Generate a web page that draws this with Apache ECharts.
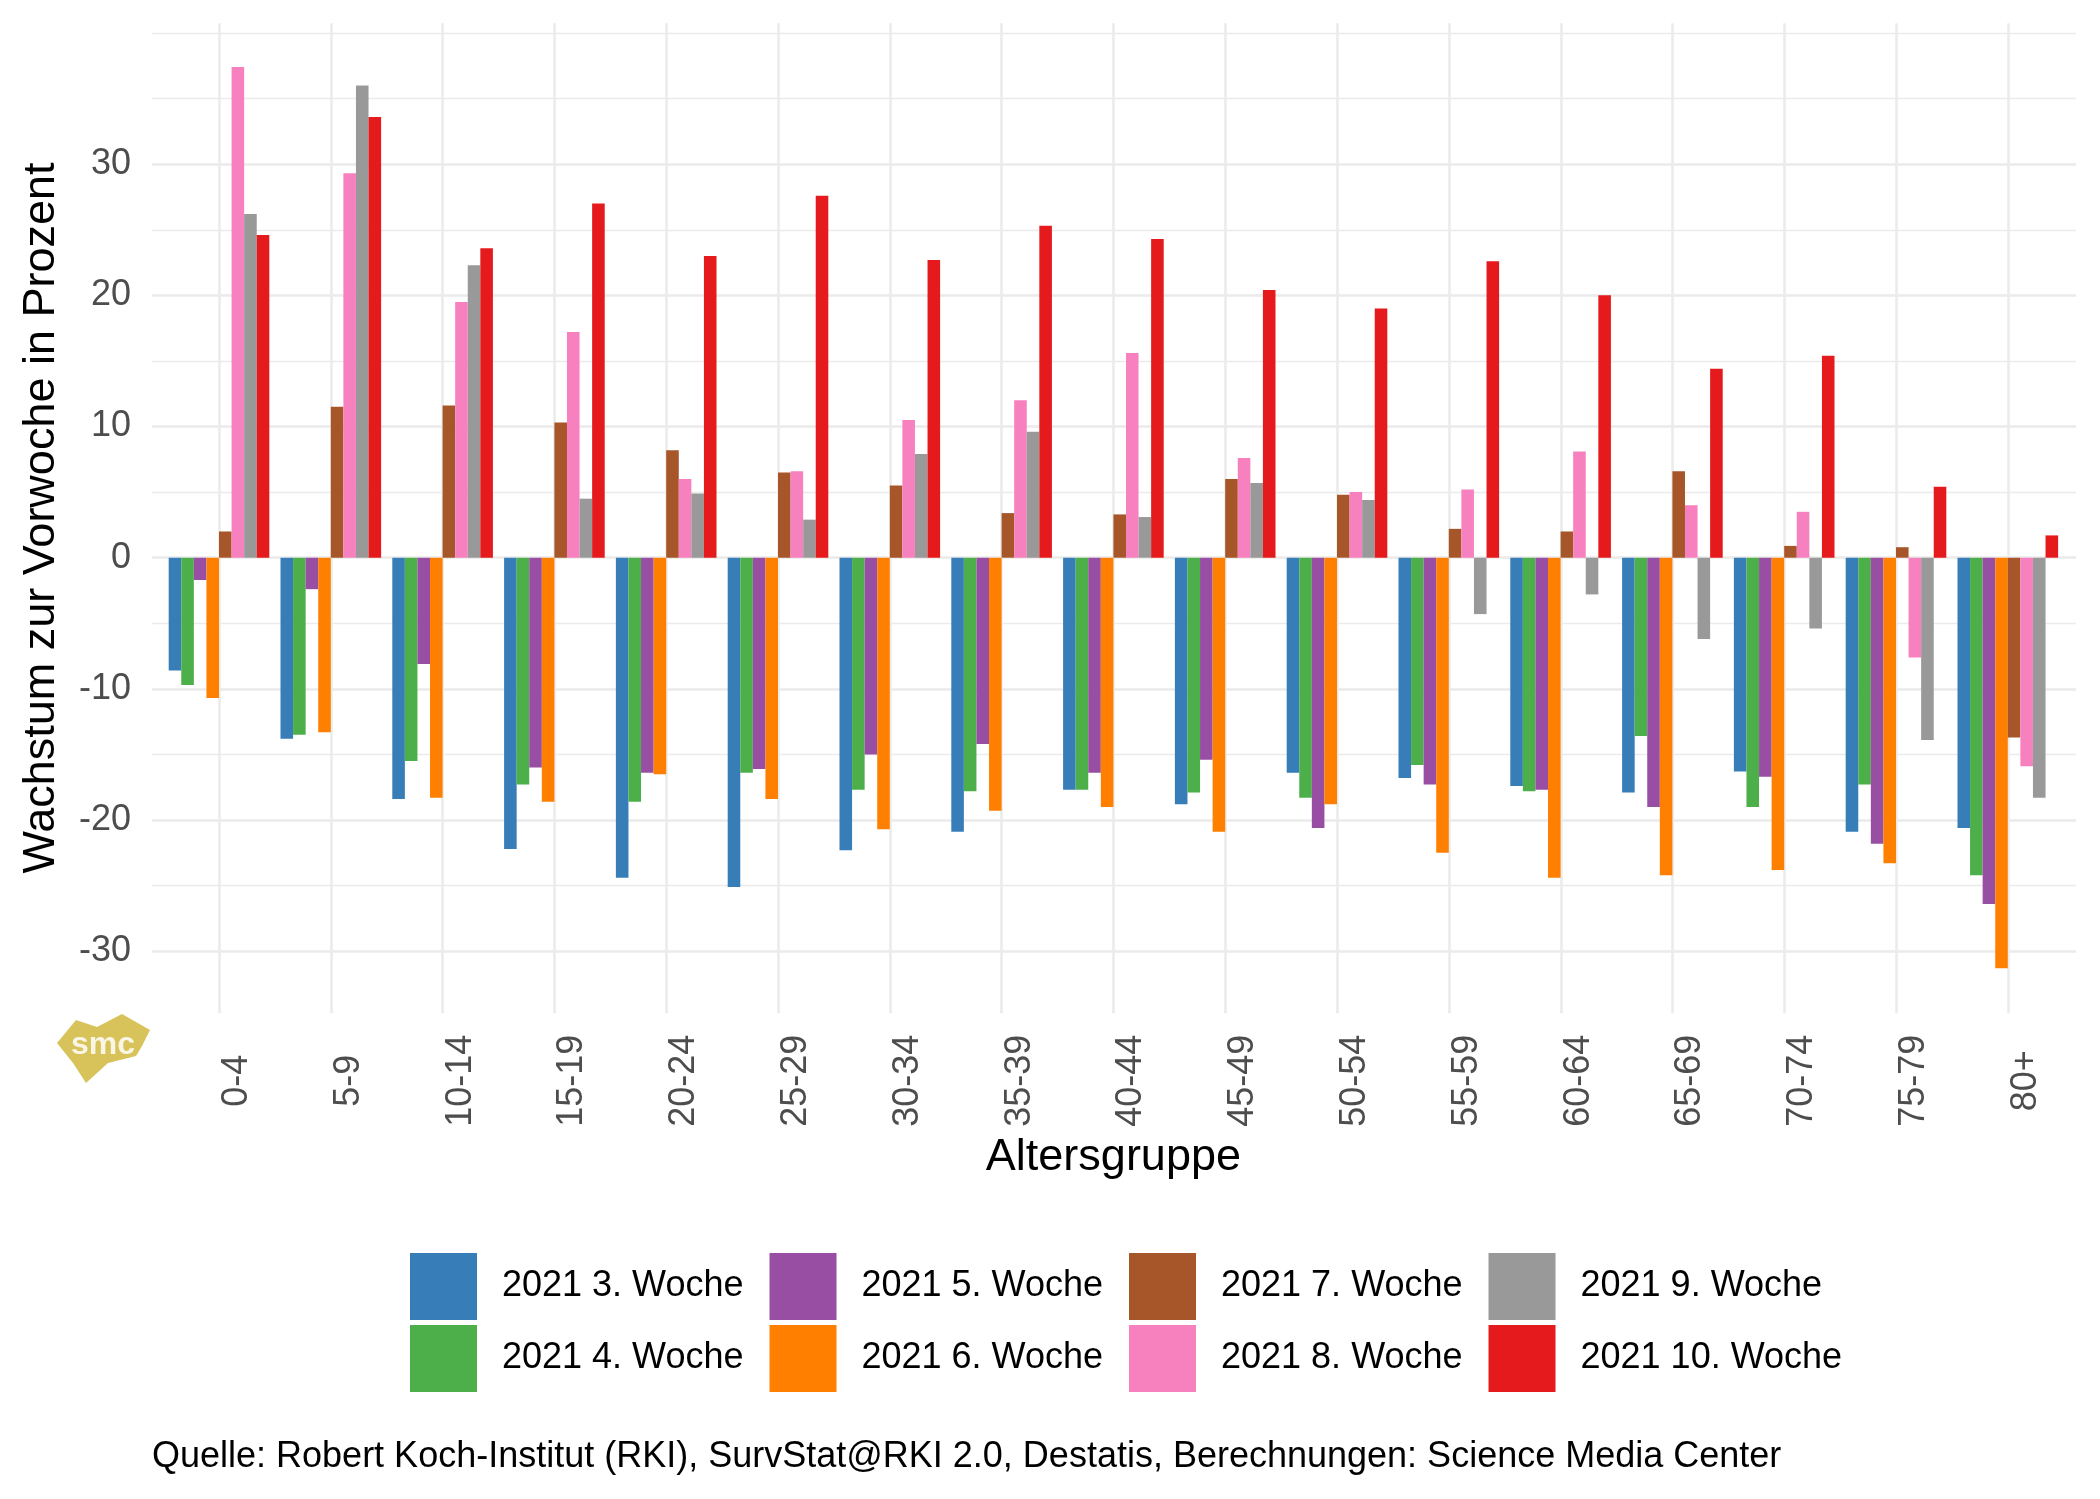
<!DOCTYPE html>
<html>
<head>
<meta charset="utf-8">
<script src="https://cdn.jsdelivr.net/npm/echarts@6/dist/echarts.min.js"></script>
<style>
html,body{margin:0;padding:0;background:#ffffff;}
#chart{width:2100px;height:1499px;}
</style>
</head>
<body>
<div id="chart"></div>
<script>
// ---------------- data ----------------
const categories = ['0-4','5-9','10-14','15-19','20-24','25-29','30-34','35-39','40-44','45-49','50-54','55-59','60-64','65-69','70-74','75-79','80+'];
const seriesNames = ['2021 3. Woche','2021 4. Woche','2021 5. Woche','2021 6. Woche','2021 7. Woche','2021 8. Woche','2021 9. Woche','2021 10. Woche'];
const week3  = [-8.6, -13.8, -18.4, -22.2, -24.4, -25.1, -22.3, -20.9, -17.7, -18.8, -16.4, -16.8, -17.4, -17.9, -16.3, -20.9, -20.6];
const week4  = [-9.7, -13.5, -15.5, -17.3, -18.6, -16.4, -17.7, -17.8, -17.7, -17.9, -18.3, -15.8, -17.8, -13.6, -19.0, -17.3, -24.2];
const week5  = [-1.7, -2.4, -8.1, -16.0, -16.4, -16.1, -15.0, -14.2, -16.4, -15.4, -20.6, -17.3, -17.7, -19.0, -16.7, -21.8, -26.4];
const week6  = [-10.7, -13.3, -18.3, -18.6, -16.5, -18.4, -20.7, -19.3, -19.0, -20.9, -18.8, -22.5, -24.4, -24.2, -23.8, -23.3, -31.3];
const week7  = [2.0, 11.5, 11.6, 10.3, 8.2, 6.5, 5.5, 3.4, 3.3, 6.0, 4.8, 2.2, 2.0, 6.6, 0.9, 0.8, -13.7];
const week8  = [37.4, 29.3, 19.5, 17.2, 6.0, 6.6, 10.5, 12.0, 15.6, 7.6, 5.0, 5.2, 8.1, 4.0, 3.5, -7.6, -15.9];
const week9  = [26.2, 36.0, 22.3, 4.5, 4.9, 2.9, 7.9, 9.6, 3.1, 5.7, 4.4, -4.3, -2.8, -6.2, -5.4, -13.9, -18.3];
const week10 = [24.6, 33.6, 23.6, 27.0, 23.0, 27.6, 22.7, 25.3, 24.3, 20.4, 19.0, 22.6, 20.0, 14.4, 15.4, 5.4, 1.7];
const weekValues = [week3, week4, week5, week6, week7, week8, week9, week10];
const colors = ['#377EB8','#4DAF4A','#984EA3','#FF7F00','#A65628','#F781BF','#999999','#E41A1C'];
const yAxisTitle = 'Wachstum zur Vorwoche in Prozent';
const xAxisTitle = 'Altersgruppe';
const caption = 'Quelle: Robert Koch-Institut (RKI), SurvStat@RKI 2.0, Destatis, Berechnungen: Science Media Center';

// ---------------- layout ----------------
const FONT = "'Liberation Sans', Arial, Helvetica, sans-serif";
const Y0 = 557.7;     // pixel of value 0
const PX = 13.117;    // pixels per unit
const GRID_COLOR = '#ebebeb';

const chart = echarts.init(document.getElementById('chart'), null, {renderer: 'canvas'});

const series = seriesNames.map((name, i) => ({
  name: name,
  type: 'bar',
  xAxisIndex: 0,
  yAxisIndex: 0,
  data: weekValues[i],
  barGap: '0%',
  barCategoryGap: '10%',
  itemStyle: {color: colors[i]},
  emphasis: {disabled: true},
  animation: false
}));

const legendBase = {
  orient: 'horizontal',
  left: 410,
  itemWidth: 67,
  itemHeight: 67,
  itemGap: 26,
  padding: 0,
  icon: 'rect',
  selectedMode: false,
  textStyle: {fontSize: 36, color: '#000000', fontFamily: FONT, padding: [8, 0, 0, 20]}
};

const option = {
  backgroundColor: '#ffffff',
  animation: false,
  title: {
    text: caption,
    left: 152,
    top: 1439,
    padding: 0,
    textStyle: {fontSize: 36, fontWeight: 'normal', color: '#000000', fontFamily: FONT}
  },
  legend: [
    Object.assign({}, legendBase, {top: 1253, data: [seriesNames[0], seriesNames[2], seriesNames[4], seriesNames[6]]}),
    Object.assign({}, legendBase, {top: 1325, data: [seriesNames[1], seriesNames[3], seriesNames[5], seriesNames[7]]})
  ],
  grid: [
    {left: 163.1, width: 1900.6, top: Y0 - 40 * PX, height: 75 * PX},
    {left: 152, width: 1924, top: Y0 - 40 * PX, height: 70 * PX},
    {left: 152, width: 1924, top: Y0 - 30 * PX, height: 60 * PX},
    {left: 219, width: 1789, top: 23.3, height: 990}
  ],
  xAxis: [
    {
      type: 'category', gridIndex: 0, data: categories,
      axisLine: {show: false}, axisTick: {show: false}, splitLine: {show: false},
      axisLabel: {rotate: 90, align: 'center', verticalAlign: 'top', margin: 64, fontSize: 36, color: '#4d4d4d', fontFamily: FONT, interval: 0},
      name: xAxisTitle, nameLocation: 'middle', nameGap: 115,
      nameTextStyle: {fontSize: 45, color: '#000000', fontFamily: FONT}
    },
    {type: 'value', gridIndex: 1, show: false, min: 0, max: 1},
    {type: 'value', gridIndex: 2, show: false, min: 0, max: 1},
    {
      type: 'value', gridIndex: 3, min: 0, max: 16, interval: 1,
      axisLine: {show: false}, axisTick: {show: false}, axisLabel: {show: false},
      splitLine: {show: true, lineStyle: {color: GRID_COLOR, width: 2.6}}
    }
  ],
  yAxis: [
    {type: 'value', gridIndex: 0, min: -35, max: 40, show: false},
    {
      type: 'value', gridIndex: 1, min: -30, max: 40, interval: 5,
      axisLine: {show: false}, axisTick: {show: false}, axisLabel: {show: false},
      splitLine: {show: true, lineStyle: {color: GRID_COLOR, width: 1.3}}
    },
    {
      type: 'value', gridIndex: 2, min: -30, max: 30, interval: 10,
      axisLine: {show: false}, axisTick: {show: false},
      axisLabel: {fontSize: 36, color: '#4d4d4d', fontFamily: FONT, margin: 21},
      splitLine: {show: true, lineStyle: {color: GRID_COLOR, width: 2.6}}
    },
    {type: 'value', gridIndex: 3, min: 0, max: 1, show: false}
  ],
  graphic: [
    {
      type: 'text', x: 42, y: 518, rotation: Math.PI / 2,
      style: {
        text: yAxisTitle, fill: '#000000', fontSize: 45, fontFamily: FONT,
        font: '45px ' + FONT,
        align: 'center', verticalAlign: 'middle', textAlign: 'center', textVerticalAlign: 'middle'
      }
    },
    {
      type: 'polygon',
      shape: {points: [[57, 1043], [76, 1020], [97, 1027], [122, 1014], [150, 1030], [142, 1046], [136, 1056], [108, 1063], [86, 1083], [73, 1063]]},
      style: {fill: '#D8C35A'}
    },
    {
      type: 'text', x: 103, y: 1045,
      style: {
        text: 'smc', fill: '#ffffff', fontSize: 32, fontWeight: 'bold', fontFamily: FONT,
        font: 'bold 32px ' + FONT,
        align: 'center', verticalAlign: 'middle', textAlign: 'center', textVerticalAlign: 'middle',
        opacity: 0.85
      }
    }
  ],
  series: series
};

chart.setOption(option);
</script>
</body>
</html>
